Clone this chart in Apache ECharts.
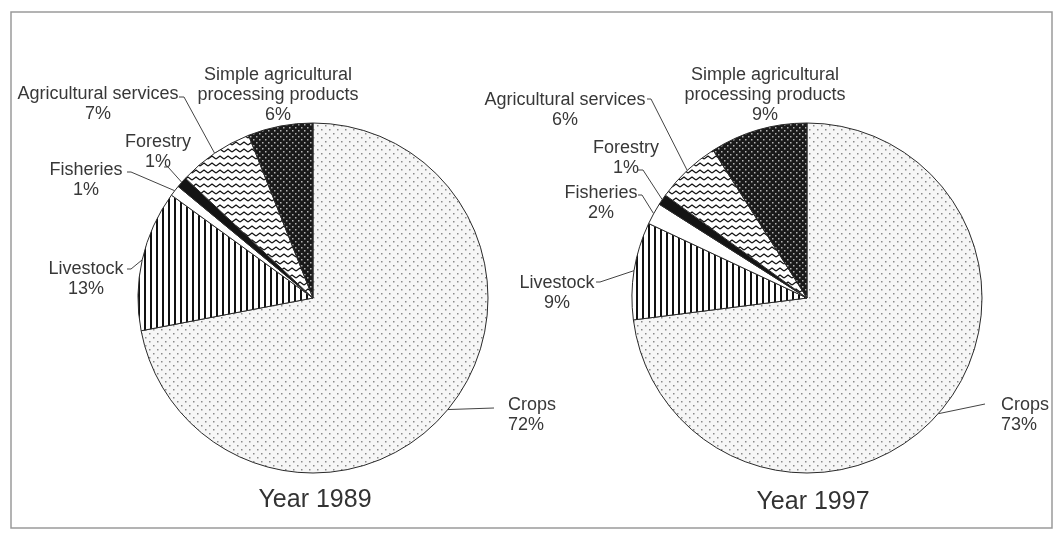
<!DOCTYPE html>
<html>
<head>
<meta charset="utf-8">
<script src="https://cdn.jsdelivr.net/npm/echarts@6/dist/echarts.min.js"></script>
<style>
  html, body { margin: 0; padding: 0; background: #ffffff; }
  #chart { width: 1056px; height: 534px; }
</style>
</head>
<body>
<div id="chart"></div>
<script>
// Composition of agricultural output, two survey years (percent shares)
const categories = [
  'Crops',
  'Livestock',
  'Fisheries',
  'Forestry',
  'Agricultural services',
  'Simple agricultural\nprocessing products'
];
const share1989 = [72, 13, 1, 1, 7, 6];
const share1997 = [73, 9, 2, 1, 6, 9];
const yearTitles = ['Year 1989', 'Year 1997'];

// Hatch / dot fills, one per category
function tile(w, h, draw) {
  const c = document.createElement('canvas');
  c.width = w; c.height = h;
  draw(c.getContext('2d'), w, h);
  return { image: c, repeat: 'repeat' };
}
const fills = [
  // sparse grey dots
  tile(8, 8, g => {
    g.fillStyle = '#f6f6f6'; g.fillRect(0, 0, 8, 8);
    g.fillStyle = '#8a8a8a'; g.fillRect(1, 1, 1.5, 1.5); g.fillRect(5, 5, 1.5, 1.5);
  }),
  // vertical stripes
  tile(6, 6, g => {
    g.fillStyle = '#ffffff'; g.fillRect(0, 0, 6, 6);
    g.fillStyle = '#111111'; g.fillRect(0, 0, 2, 6);
  }),
  '#ffffff',
  '#141414',
  // zigzag waves
  tile(8, 7, g => {
    g.fillStyle = '#ffffff'; g.fillRect(0, 0, 8, 7);
    g.strokeStyle = '#111111'; g.lineWidth = 1.3;
    g.beginPath(); g.moveTo(0, 5); g.lineTo(4, 2); g.lineTo(8, 5); g.stroke();
  }),
  // light dots on black
  tile(6, 6, g => {
    g.fillStyle = '#1a1a1a'; g.fillRect(0, 0, 6, 6);
    g.fillStyle = '#b5b5b5'; g.fillRect(1, 1, 1.5, 1.5); g.fillRect(4, 4, 1.5, 1.5);
  })
];

// Where each slice label sits, and the bend of its leader line
const labelSpots = [
  [
    { x: 508, y: 415, align: 'left', guide: [[494, 408]] },
    { x: 86, y: 279, guide: [[131, 269], [127, 269]] },
    { x: 86, y: 180, guide: [[131, 172], [127, 172]] },
    { x: 158, y: 152, guide: [[168, 167], [164, 167]] },
    { x: 98, y: 104, guide: [[184, 97], [179, 97]] },
    { x: 278, y: 95 }
  ],
  [
    { x: 1001, y: 415, align: 'left', guide: [[985, 404]] },
    { x: 557, y: 293, guide: [[600, 282], [596, 282]] },
    { x: 601, y: 203, guide: [[642, 195], [638, 195]] },
    { x: 626, y: 158, guide: [[643, 170], [638, 170]] },
    { x: 565, y: 110, guide: [[651, 99], [647, 99]] },
    { x: 765, y: 95 }
  ]
];
const pieCenters = [[313, 298], [807, 298]];
const FONT = 'Liberation Sans, Arial, sans-serif';

function buildSeries(values, idx) {
  return {
    type: 'pie',
    center: pieCenters[idx],
    radius: 175,
    startAngle: 90,
    clockwise: true,
    avoidLabelOverlap: false,
    minShowLabelAngle: 0,
    animation: false,
    silent: true,
    itemStyle: { borderColor: '#2a2a2a', borderWidth: 1 },
    label: {
      show: true,
      position: 'outside',
      formatter: p => p.name + '\n' + p.value + '%',
      fontFamily: FONT,
      fontSize: 18,
      lineHeight: 20,
      color: '#383838',
      align: 'center'
    },
    labelLine: { show: true, lineStyle: { color: '#444444', width: 1 } },
    labelLayout: params => {
      const s = labelSpots[idx][params.dataIndex];
      const out = {
        x: s.x, y: s.y,
        align: s.align || 'center',
        verticalAlign: 'middle',
        hideOverlap: false
      };
      if (s.guide && params.labelLinePoints) {
        out.labelLinePoints = [params.labelLinePoints[0]].concat(s.guide);
      }
      return out;
    },
    data: categories.map((name, i) => ({
      name: name,
      value: values[i],
      itemStyle: { color: fills[i] },
      labelLine: { show: !!labelSpots[idx][i].guide }
    }))
  };
}

const chart = echarts.init(document.getElementById('chart'), null, { renderer: 'canvas' });
chart.setOption({
  backgroundColor: '#ffffff',
  animation: false,
  graphic: [
    {
      type: 'rect',
      shape: { x: 11, y: 12, width: 1041, height: 516 },
      style: { fill: 'none', stroke: '#9a9a9a', lineWidth: 1.5 },
      z: -1
    },
    {
      type: 'text', x: pieCenters[0][0] + 2, y: 500,
      style: { text: yearTitles[0], font: '25px ' + FONT, fill: '#333333', align: 'center', verticalAlign: 'middle' }
    },
    {
      type: 'text', x: pieCenters[1][0] + 6, y: 502,
      style: { text: yearTitles[1], font: '25px ' + FONT, fill: '#333333', align: 'center', verticalAlign: 'middle' }
    }
  ],
  series: [buildSeries(share1989, 0), buildSeries(share1997, 1)]
});
</script>
</body>
</html>
